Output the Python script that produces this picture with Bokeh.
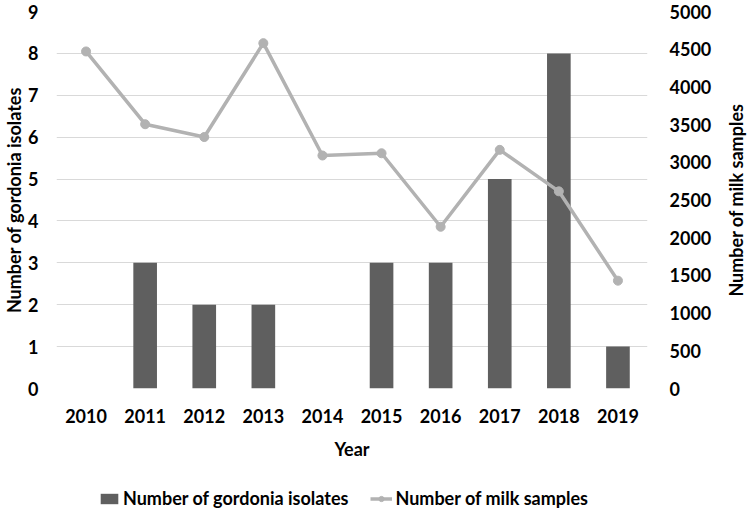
from bokeh.plotting import figure
from bokeh.layouts import gridplot
from bokeh.models import Range1d, LinearAxis, FixedTicker, Legend, LegendItem, FactorRange
from bokeh.embed import file_html
from bokeh.resources import INLINE

years = ["2010", "2011", "2012", "2013", "2014", "2015", "2016", "2017", "2018", "2019"]
isolates = [0, 3, 2, 2, 0, 3, 3, 5, 8, 1]
milk_samples = [4470, 3505, 3335, 4580, 3090, 3120, 2145, 3165, 2615, 1430]

left_ticks = list(range(0, 10))
right_ticks = list(range(0, 5001, 500))

series_names = ["Number of gordonia isolates", "Number of milk samples"]

FONT = "Lato"
SIZE = "18px"
BAR = "#5f5f5f"
LINE = "#b2b2b2"

def style_axis(ax):
    ax.axis_line_color = None
    ax.major_tick_line_color = None
    ax.minor_tick_line_color = None
    ax.major_label_text_font = FONT
    ax.major_label_text_font_style = "bold"
    ax.major_label_text_font_size = SIZE
    ax.major_label_text_color = "#000000"
    ax.axis_label_text_font = FONT
    ax.axis_label_text_font_style = "bold"
    ax.axis_label_text_font_size = SIZE
    ax.axis_label_text_color = "#000000"

# main chart
p = figure(width=714, height=470, x_range=years, y_range=Range1d(0, 9),
           output_backend="svg", toolbar_location=None,
           min_border_left=40, min_border_right=58, min_border_top=11, min_border_bottom=82)
p.outline_line_color = None
p.extra_y_ranges = {"milk": Range1d(0, 5000)}

p.vbar(x=years, top=isolates, width=0.4, color=BAR, line_color=None)
p.line(x=years, y=milk_samples, line_color=LINE, line_width=3.5, y_range_name="milk")
p.scatter(x=years, y=milk_samples, size=9, color=LINE, y_range_name="milk")

p.yaxis.ticker = FixedTicker(ticks=left_ticks)
p.ygrid.ticker = FixedTicker(ticks=left_ticks)
p.xgrid.grid_line_color = None
p.ygrid.grid_line_color = "#d9d9d9"
p.ygrid.grid_line_width = 1

raxis = LinearAxis(y_range_name="milk", ticker=FixedTicker(ticks=right_ticks))
p.add_layout(raxis, "right")

p.xaxis.axis_label = "Year"
p.yaxis[0].axis_label = series_names[0]
for ax in [p.xaxis[0], p.yaxis[0], raxis]:
    style_axis(ax)

p.xaxis.major_label_standoff = 14
p.xaxis.axis_label_standoff = 12
p.yaxis[0].major_label_standoff = 12
p.yaxis[0].axis_label_standoff = 0
raxis.major_label_standoff = 16

# strip on the right that carries the right axis title (reads bottom to top)
rf = figure(width=34, height=470, x_range=Range1d(0, 1), y_range=Range1d(0, 1),
            output_backend="svg", toolbar_location=None,
            min_border_left=32, min_border_right=0, min_border_top=11, min_border_bottom=82)
rf.outline_line_color = None
rf.grid.grid_line_color = None
rf.xaxis.visible = False
rf.yaxis.ticker = FixedTicker(ticks=[])
rf.yaxis.axis_label = series_names[1]
style_axis(rf.yaxis[0])
rf.yaxis.axis_label_standoff = 0
rf.yaxis.major_label_standoff = 0

# legend strip below the chart (its renderers are hidden; only the legend shows)
lg = figure(width=714, height=40, x_range=FactorRange(factors=years), y_range=Range1d(-2, -1),
            output_backend="svg", toolbar_location=None, min_border=0)
lg.axis.visible = False
lg.grid.grid_line_color = None
lg.outline_line_color = None
lbar = lg.vbar(x=years, top=isolates, width=0.4, color=BAR, line_color=None, visible=False)
lline = lg.line(x=years, y=milk_samples, line_color=LINE, line_width=3.5, visible=False)
lpts = lg.scatter(x=years, y=milk_samples, size=9, color=LINE, visible=False)

legend = Legend(items=[
    LegendItem(label=series_names[0], renderers=[lbar]),
    LegendItem(label=series_names[1], renderers=[lline, lpts]),
], orientation="horizontal", location=(42, 1))
legend.label_text_font = FONT
legend.label_text_font_style = "bold"
legend.label_text_font_size = SIZE
legend.label_text_color = "#000000"
legend.glyph_width = 22
legend.glyph_height = 13
legend.spacing = 22
legend.label_standoff = 3
legend.border_line_color = None
legend.background_fill_alpha = 0
legend.inactive_fill_alpha = 0
legend.padding = 0
legend.margin = 0
lg.add_layout(legend, "center")

grid = gridplot([[p, rf], [lg, None]], toolbar_location=None)
open("out.html", "w").write(file_html(grid, INLINE))
